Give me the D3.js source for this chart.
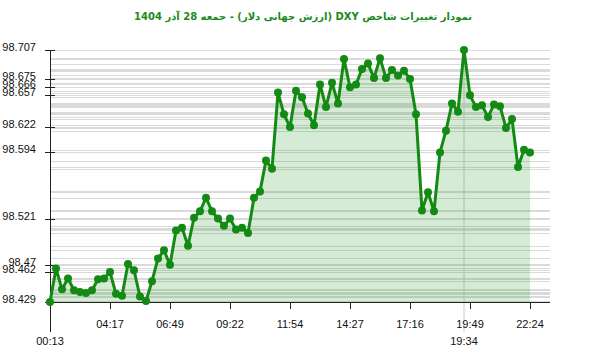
<!DOCTYPE html>
<html>
<head>
<meta charset="utf-8">
<script src="https://cdn.jsdelivr.net/npm/d3@7"></script>
<style>
  body { margin: 0; background: #fff; }
  .tick-label { font-family: "Liberation Sans", Arial, sans-serif; font-size: 11px; fill: #111; }
  .title { font-family: Tahoma, "DejaVu Sans", sans-serif; font-size: 10px; font-weight: bold; fill: #1d8a1d; }
</style>
</head>
<body>
<div id="chart"></div>
<script>
// DXY values, one every few minutes
var values = [
  98.429, 98.466, 98.443, 98.455, 98.442, 98.440, 98.439, 98.442, 98.454, 98.455,
  98.462, 98.438, 98.436, 98.471, 98.464, 98.435, 98.430, 98.452, 98.477, 98.486,
  98.470, 98.508, 98.511, 98.491, 98.522, 98.529, 98.544, 98.529, 98.521, 98.513,
  98.521, 98.509, 98.511, 98.505, 98.544, 98.551, 98.585, 98.576, 98.660, 98.636,
  98.622, 98.662, 98.655, 98.637, 98.624, 98.669, 98.644, 98.671, 98.648, 98.697,
  98.666, 98.669, 98.686, 98.692, 98.676, 98.698, 98.676, 98.685, 98.679, 98.684,
  98.675, 98.636, 98.530, 98.550, 98.529, 98.594, 98.618, 98.648, 98.639, 98.707,
  98.657, 98.644, 98.646, 98.633, 98.647, 98.645, 98.621, 98.631, 98.578, 98.597,
  98.594
];

// one x label every 10 points
var xTickLabels = ["00:13", "04:17", "06:49", "09:22", "11:54", "14:27", "17:16", "19:49", "22:24"];
var xTickStep = 10;

// times of min and max
var minTime = "00:13";
var maxTime = "19:34";

var yTickValues = [98.707, 98.675, 98.666, 98.657, 98.622, 98.594, 98.521, 98.47, 98.462, 98.429];

var title = "نمودار تغییرات شاخص DXY (ارزش جهانی دلار) - جمعه  28 آذر 1404";

var W = 600, H = 352;
var margin = {top: 50, left: 50, bottom: 50};

var svg = d3.select("#chart").append("svg")
    .attr("width", W)
    .attr("height", H);

var x = d3.scaleLinear()
    .domain([0, values.length - 1])
    .range([margin.left, margin.left + 480]);

var y = d3.scaleLinear()
    .domain([d3.min(values), d3.max(values)])
    .range([H - margin.bottom, margin.top]);

var axisEnd = x.range()[1] + 20;
var y0 = y.range()[0];

// title
svg.append("text")
    .attr("class", "title")
    .attr("x", W / 2 + 3)
    .attr("y", 20)
    .attr("direction", "rtl")
    .style("text-anchor", "middle")
    .text(title);

// gray guide lines, one per value
svg.append("g")
    .selectAll("line")
    .data(values)
    .enter().append("line")
    .attr("x1", margin.left)
    .attr("x2", axisEnd)
    .attr("y1", function(d) { return Math.round(y(d)) + 0.5; })
    .attr("y2", function(d) { return Math.round(y(d)) + 0.5; })
    .attr("stroke", "#dadada")
    .attr("stroke-width", 1);

var iMax = values.indexOf(d3.max(values));
var iMin = values.indexOf(d3.min(values));

// vertical line at the max
svg.append("line")
    .attr("x1", x(iMax)).attr("x2", x(iMax))
    .attr("y1", y(values[iMax]))
    .attr("y2", y0 + 30)
    .attr("stroke", "#c8c8c8");

// area
var area = d3.area()
    .x(function(d, i) { return x(i); })
    .y0(y0)
    .y1(function(d) { return y(d); });

svg.append("path")
    .datum(values)
    .attr("fill", "#2e9a2e")
    .attr("fill-opacity", 0.2)
    .attr("d", area);

// axes
svg.append("line")
    .attr("x1", margin.left).attr("x2", axisEnd)
    .attr("y1", y0 + 0.5).attr("y2", y0 + 0.5)
    .attr("stroke", "#222");

svg.append("line")
    .attr("x1", margin.left + 0.5).attr("x2", margin.left + 0.5)
    .attr("y1", margin.top).attr("y2", y0 + 30)
    .attr("stroke", "#222");

// y ticks
var yt = svg.append("g").selectAll("g")
    .data(yTickValues)
    .enter().append("g");

yt.append("line")
    .attr("x1", margin.left - 5).attr("x2", margin.left + 5)
    .attr("y1", function(d) { return Math.round(y(d)) + 0.5; })
    .attr("y2", function(d) { return Math.round(y(d)) + 0.5; })
    .attr("stroke", "#222");

yt.append("text")
    .attr("class", "tick-label")
    .attr("x", margin.left - 14)
    .attr("y", function(d) { return y(d) + 1; })
    .style("text-anchor", "end")
    .text(function(d) { return d; });

// x ticks
var xt = svg.append("g").selectAll("g")
    .data(xTickLabels.slice(1))
    .enter().append("g");

xt.append("line")
    .attr("x1", function(d, i) { return x((i + 1) * xTickStep) + 0.5; })
    .attr("x2", function(d, i) { return x((i + 1) * xTickStep) + 0.5; })
    .attr("y1", y0)
    .attr("y2", y0 + 7)
    .attr("stroke", "#222");

xt.append("text")
    .attr("class", "tick-label")
    .attr("x", function(d, i) { return x((i + 1) * xTickStep); })
    .attr("y", y0 + 26)
    .style("text-anchor", "middle")
    .text(function(d) { return d; });

// min / max time labels (second row)
svg.append("text")
    .attr("class", "tick-label")
    .attr("x", x(iMin))
    .attr("y", y0 + 43)
    .style("text-anchor", "middle")
    .text(minTime);

svg.append("text")
    .attr("class", "tick-label")
    .attr("x", x(iMax))
    .attr("y", y0 + 43)
    .style("text-anchor", "middle")
    .text(maxTime);

// line + dots
var line = d3.line()
    .x(function(d, i) { return x(i); })
    .y(function(d) { return y(d); });

svg.append("path")
    .datum(values)
    .attr("fill", "none")
    .attr("stroke", "#138a13")
    .attr("stroke-width", 3)
    .attr("stroke-linejoin", "round")
    .attr("d", line);

svg.append("g")
    .selectAll("circle")
    .data(values)
    .enter().append("circle")
    .attr("cx", function(d, i) { return x(i); })
    .attr("cy", function(d) { return y(d); })
    .attr("r", 4)
    .attr("fill", "#138a13");
</script>
</body>
</html>
